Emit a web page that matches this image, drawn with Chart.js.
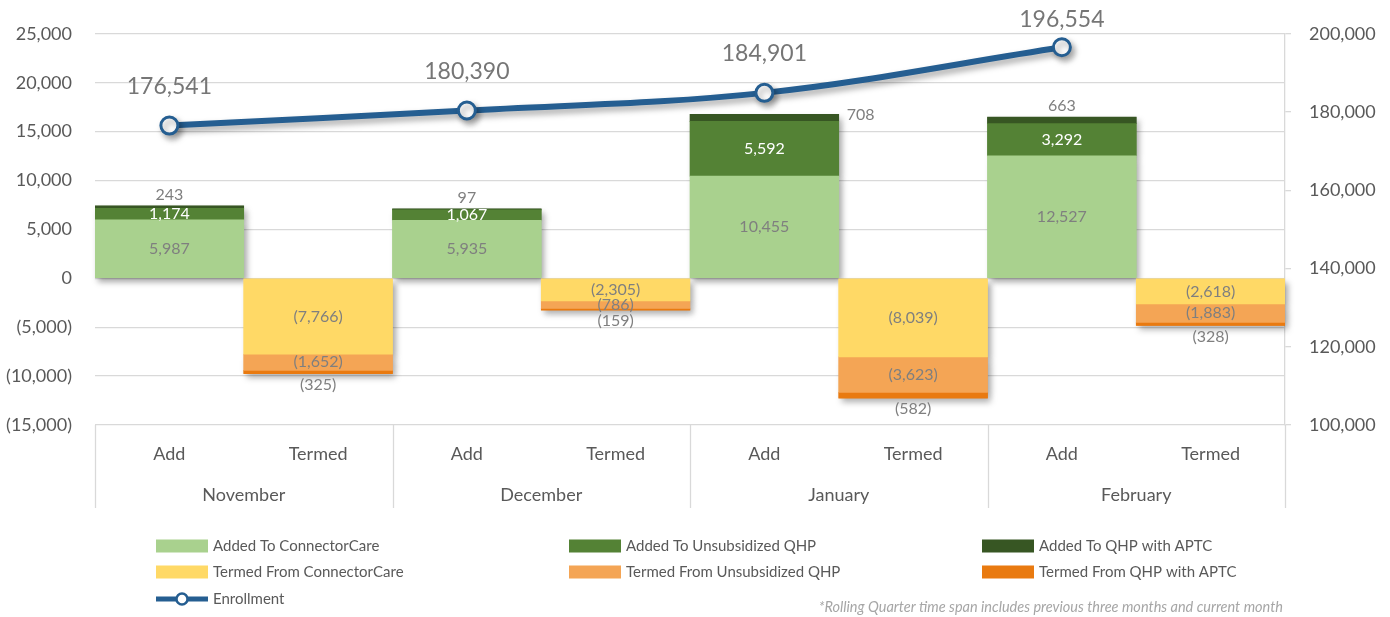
<!DOCTYPE html>
<html>
<head>
<meta charset="utf-8">
<script src="https://cdn.jsdelivr.net/npm/chart.js@4.4.1/dist/chart.umd.min.js"></script>
<style>
  html, body { margin: 0; padding: 0; background: #fff; }
  #wrap { width: 1390px; height: 617px; }
</style>
</head>
<body>
<div id="wrap"><canvas id="chart" width="1390" height="617"></canvas></div>
<script>
// values, one entry per month
const months = ['November', 'December', 'January', 'February']
const actions = ['Add', 'Termed']

const addedConnectorCare = [5987, 5935, 10455, 12527]
const addedUnsubsidized = [1174, 1067, 5592, 3292]
const addedAptc = [243, 97, 708, 663]
const termedConnectorCare = [-7766, -2305, -8039, -2618]
const termedUnsubsidized = [-1652, -786, -3623, -1883]
const termedAptc = [-325, -159, -582, -328]
const enrollment = [176541, 180390, 184901, 196554]

const leftAxis = { min: -15000, max: 25000, step: 5000 }
const rightAxis = { min: 100000, max: 200000, step: 20000 }

const footnote = '*Rolling Quarter time span includes previous three months and current month'

const textColor = '#595959'
const labelGray = '#7F7F7F'
const gridColor = '#D9D9D9'
const lineBlue = '#255E91'

// two categories per month: Add, Termed
const categories = months.flatMap(() => actions)
const onAdd = values => values.flatMap(v => [v, null])
const onTermed = values => values.flatMap(v => [null, v])

const fmt = v => {
  const s = Math.abs(v).toLocaleString('en-US')
  return v < 0 ? '(' + s + ')' : s
}

Chart.defaults.font.family = 'Lato, "Open Sans", sans-serif'

const barDatasets = [
  { label: 'Added To ConnectorCare', data: onAdd(addedConnectorCare), backgroundColor: '#A9D18E', labelMode: 'center', labelColor: labelGray },
  { label: 'Added To Unsubsidized QHP', data: onAdd(addedUnsubsidized), backgroundColor: '#548235', labelMode: 'center', labelColor: '#FFFFFF' },
  { label: 'Added To QHP with APTC', data: onAdd(addedAptc), backgroundColor: '#375623', labelMode: 'outside', labelColor: labelGray },
  { label: 'Termed From ConnectorCare', data: onTermed(termedConnectorCare), backgroundColor: '#FFD966', labelMode: 'center', labelColor: labelGray },
  { label: 'Termed From Unsubsidized QHP', data: onTermed(termedUnsubsidized), backgroundColor: '#F4A555', labelMode: 'center', labelColor: labelGray },
  { label: 'Termed From QHP with APTC', data: onTermed(termedAptc), backgroundColor: '#E97A10', labelMode: 'outside', labelColor: labelGray }
].map(d => Object.assign(d, {
  type: 'bar',
  stack: 'flow',
  yAxisID: 'y',
  order: 1,
  borderWidth: 0,
  barPercentage: 1,
  categoryPercentage: 1
}))

const lineDataset = {
  type: 'line',
  label: 'Enrollment',
  data: onAdd(enrollment),
  yAxisID: 'y1',
  order: 0,
  borderColor: lineBlue,
  borderWidth: 6,
  tension: 0.35,
  spanGaps: true,
  pointRadius: 8.5,
  pointBorderWidth: 3,
  pointBackgroundColor: '#FFFFFF',
  pointBorderColor: lineBlue
}

// soft drop shadow under the bars, drawn before the bars themselves
const shadowPlugin = {
  id: 'shadows',
  beforeDatasetsDraw(chart) {
    const ctx = chart.ctx
    ctx.save()
    ctx.shadowColor = 'rgba(0, 0, 0, 0.35)'
    ctx.shadowBlur = 6
    ctx.shadowOffsetX = 3
    ctx.shadowOffsetY = 4
    chart.data.datasets.forEach((ds, i) => {
      if (ds.type !== 'bar') return
      chart.getDatasetMeta(i).data.forEach((el, j) => {
        if (ds.data[j] === null) return
        const p = el.getProps(['x', 'y', 'base', 'width'], true)
        ctx.fillStyle = ds.backgroundColor
        ctx.fillRect(p.x - p.width / 2, Math.min(p.y, p.base), p.width, Math.abs(p.base - p.y))
      })
    })
    ctx.restore()
  },
  beforeDatasetDraw(chart, args) {
    if (args.meta.type !== 'line') return
    const ctx = chart.ctx
    ctx.save()
    ctx.shadowColor = 'rgba(0, 0, 0, 0.35)'
    ctx.shadowBlur = 6
    ctx.shadowOffsetX = 3
    ctx.shadowOffsetY = 4
  },
  afterDatasetDraw(chart, args) {
    if (args.meta.type !== 'line') return
    chart.ctx.restore()
  }
}

// value labels on bars and on the enrollment line
const labelPlugin = {
  id: 'valueLabels',
  afterDatasetsDraw(chart) {
    const ctx = chart.ctx
    const lineIndex = chart.data.datasets.findIndex(d => d.type === 'line')
    const linePoints = chart.getDatasetMeta(lineIndex).data
    ctx.save()
    ctx.textBaseline = 'middle'
    chart.data.datasets.forEach((ds, i) => {
      if (ds.type !== 'bar') return
      chart.getDatasetMeta(i).data.forEach((el, j) => {
        const v = ds.data[j]
        if (v === null) return
        const p = el.getProps(['x', 'y', 'base', 'width'], true)
        let x = p.x
        let y = (p.y + p.base) / 2
        ctx.textAlign = 'center'
        if (ds.labelMode === 'outside') {
          y = v >= 0 ? p.y - 11 : p.y + 11
          // move beside the bar if the label would run into the enrollment marker
          const pt = linePoints[j]
          if (v >= 0 && pt && !pt.skip && Math.abs(pt.y - y) < 22) {
            x = p.x + p.width / 2 + 8
            y = p.y
            ctx.textAlign = 'left'
          }
        }
        ctx.font = '16px Lato, "Open Sans", sans-serif'
        ctx.fillStyle = ds.labelColor
        ctx.fillText(fmt(v), x, y)
      })
    })
    const lineData = chart.data.datasets[lineIndex].data
    ctx.font = '23px Lato, "Open Sans", sans-serif'
    ctx.fillStyle = '#767676'
    ctx.textAlign = 'center'
    linePoints.forEach((pt, j) => {
      if (lineData[j] === null) return
      ctx.fillText(fmt(lineData[j]), pt.x, Math.max(pt.y - 39, 20))
    })
    ctx.restore()
  }
}

// month group labels, separators, legend and footnote
const framePlugin = {
  id: 'frame',
  afterDraw(chart) {
    const ctx = chart.ctx
    const xs = chart.scales.x
    const area = chart.chartArea
    ctx.save()
    ctx.strokeStyle = gridColor
    ctx.lineWidth = 1.3
    const bounds = [area.left]
    months.forEach((m, k) => {
      const a = xs.getPixelForValue(k * 2)
      const b = xs.getPixelForValue(k * 2 + 1)
      const half = (b - a) / 2
      bounds.push(b + half)
      ctx.font = '18px Lato, "Open Sans", sans-serif'
      ctx.fillStyle = textColor
      ctx.textAlign = 'center'
      ctx.textBaseline = 'middle'
      ctx.fillText(m, (a + b) / 2, 495)
    })
    bounds.forEach(bx => {
      ctx.beginPath()
      ctx.moveTo(Math.round(bx) + 0.5, area.bottom)
      ctx.lineTo(Math.round(bx) + 0.5, 508)
      ctx.stroke()
    })

    // legend: three columns, bar series first then the line
    const cols = [156, 569, 982]
    const rows = [546, 572, 599]
    ctx.font = '15px Lato, "Open Sans", sans-serif'
    ctx.textAlign = 'left'
    ctx.textBaseline = 'middle'
    chart.data.datasets.forEach((ds, i) => {
      const x = cols[i % 3]
      const y = rows[Math.floor(i / 3)]
      if (ds.type === 'bar') {
        ctx.fillStyle = ds.backgroundColor
        ctx.fillRect(x, y - 6.5, 52, 13)
      } else {
        ctx.strokeStyle = ds.borderColor
        ctx.lineWidth = 5
        ctx.beginPath()
        ctx.moveTo(x, y)
        ctx.lineTo(x + 52, y)
        ctx.stroke()
        ctx.beginPath()
        ctx.arc(x + 26, y, 5.5, 0, Math.PI * 2)
        ctx.fillStyle = '#FFFFFF'
        ctx.fill()
        ctx.lineWidth = 2.5
        ctx.stroke()
      }
      ctx.fillStyle = textColor
      ctx.fillText(ds.label, x + 57, y)
    })

    ctx.font = 'italic 14.5px Lato, "Open Sans", sans-serif'
    ctx.fillStyle = '#A6A6A6'
    ctx.textAlign = 'right'
    ctx.fillText(footnote, 1283, 607)
    ctx.restore()
  }
}

new Chart(document.getElementById('chart'), {
  data: {
    labels: categories,
    datasets: [...barDatasets, lineDataset]
  },
  options: {
    responsive: false,
    animation: false,
    devicePixelRatio: 1,
    layout: { padding: { top: 32, left: 0, right: 0, bottom: 0 } },
    plugins: {
      legend: { display: false },
      tooltip: { enabled: false }
    },
    scales: {
      x: {
        type: 'category',
        offset: true,
        stacked: true,
        grid: { display: false },
        border: { display: false },
        ticks: { color: textColor, font: { size: 18 }, padding: 10, maxRotation: 0, autoSkip: false },
        afterFit(s) { s.height = 192 }
      },
      y: {
        position: 'left',
        stacked: true,
        min: leftAxis.min,
        max: leftAxis.max,
        ticks: { stepSize: leftAxis.step, color: textColor, font: { size: 18 }, padding: 23, callback: v => fmt(v) },
        grid: { color: gridColor, lineWidth: 1.3, drawTicks: false },
        border: { display: false },
        afterFit(s) { s.width = 95 }
      },
      y1: {
        position: 'right',
        min: rightAxis.min,
        max: rightAxis.max,
        ticks: { stepSize: rightAxis.step, color: textColor, font: { size: 18 }, padding: 18, callback: v => fmt(v) },
        grid: { drawOnChartArea: false, drawTicks: true, tickLength: 6, color: gridColor, lineWidth: 1.3 },
        border: { display: true, color: gridColor, width: 1.3 },
        afterFit(s) { s.width = 105 }
      }
    }
  },
  plugins: [shadowPlugin, labelPlugin, framePlugin]
})
</script>
</body>
</html>
